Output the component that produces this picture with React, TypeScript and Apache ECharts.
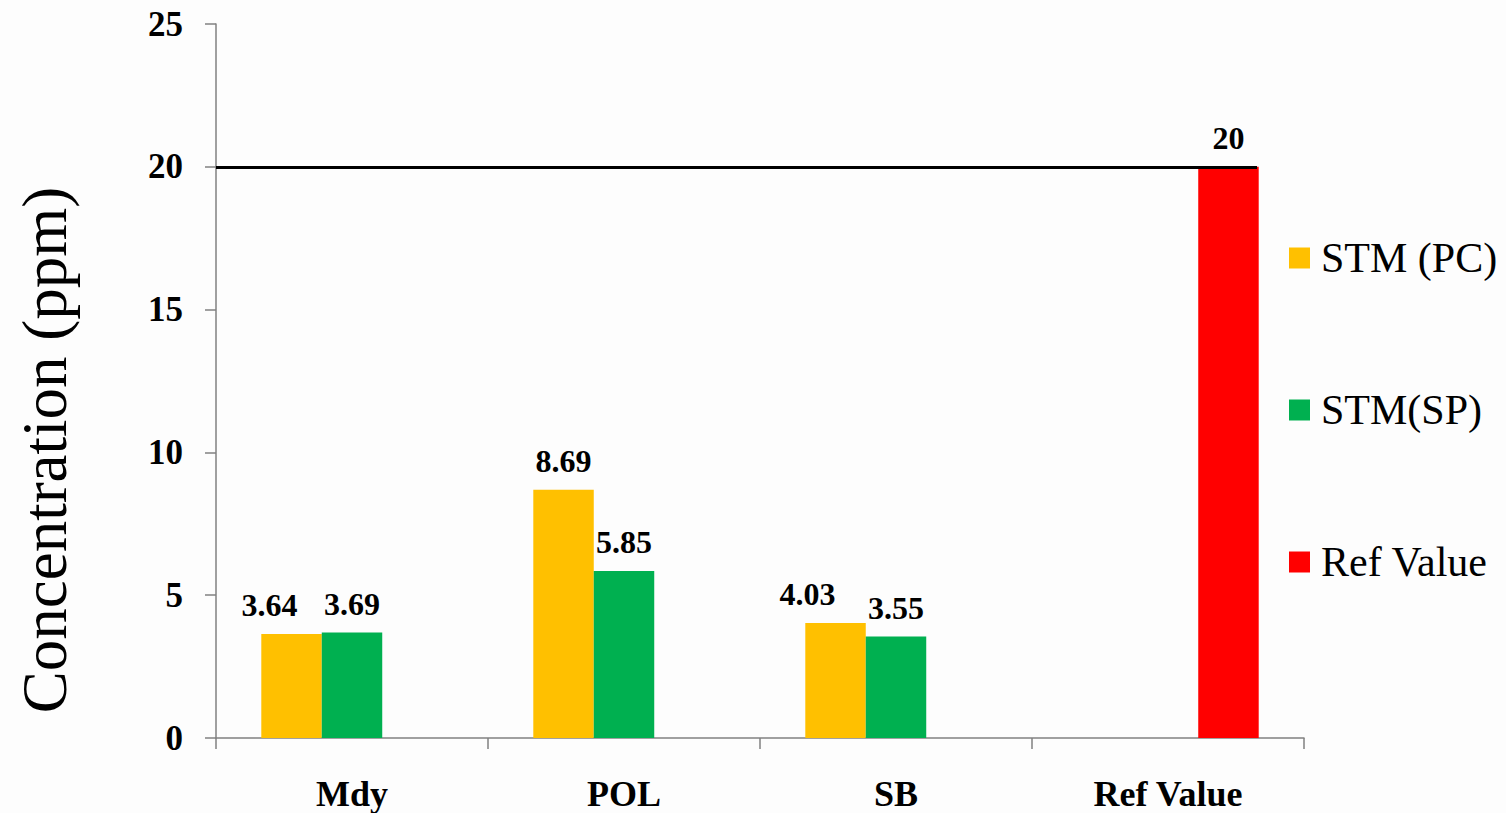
import React, { useEffect, useRef } from "react";
import * as echarts from "echarts";

const categories = ["Mdy", "POL", "SB", "Ref Value"];
const seriesNames = ["STM (PC)", "STM(SP)", "Ref Value"];
const stmPC = [3.64, 8.69, 4.03, null];
const stmSP = [3.69, 5.85, 3.55, null];
const refValue = [null, null, null, 20];
const refLine = 20;
const yTicks = { min: 0, max: 25, interval: 5 };
const colors = ["#FFC000", "#00B050", "#FF0000"];
// label horizontal shifts as drawn in the reference (per data point)
const pcLabelShift = [-22, 0, -28, 0];

const FONT = "'Liberation Serif', 'Times New Roman', serif";

export default function App() {
  const ref = useRef<HTMLDivElement>(null);
  useEffect(() => {
    document.body.style.margin = "0";
    const chart = echarts.init(ref.current!, undefined, { renderer: "svg" });
    const labelBase = {
      show: true,
      position: "top",
      distance: 13,
      fontFamily: FONT,
      fontWeight: "bold",
      fontSize: 32,
      color: "#000",
    };
    chart.setOption({
      animation: false,
      backgroundColor: "#fdfdfd",
      textStyle: { fontFamily: FONT },
      grid: { left: 216, right: 202, top: 24, bottom: 75, containLabel: false },
      legend: {
        orient: "vertical",
        left: 1289,
        top: 237,
        padding: 0,
        itemGap: 110,
        itemWidth: 21,
        itemHeight: 21,
        icon: "rect",
        data: seriesNames,
        textStyle: { fontFamily: FONT, fontSize: 42, color: "#000", padding: [0, 0, 0, 6] },
      },
      xAxis: {
        type: "category",
        data: categories,
        boundaryGap: true,
        axisLine: { lineStyle: { color: "#808080", width: 1.5 } },
        axisTick: { show: true, length: 11, lineStyle: { color: "#808080", width: 1.5 } },
        axisLabel: {
          fontFamily: FONT,
          fontWeight: "bold",
          fontSize: 36,
          color: "#000",
          margin: 38,
        },
      },
      yAxis: {
        type: "value",
        min: yTicks.min,
        max: yTicks.max,
        interval: yTicks.interval,
        splitLine: { show: false },
        axisLine: { show: true, lineStyle: { color: "#808080", width: 1.5 } },
        axisTick: { show: true, length: 11, lineStyle: { color: "#808080", width: 1.5 } },
        axisLabel: {
          fontFamily: FONT,
          fontWeight: "bold",
          fontSize: 35,
          color: "#000",
          margin: 33,
        },
      },
      graphic: [
        {
          type: "text",
          x: 45,
          y: 450,
          rotation: Math.PI / 2,
          style: {
            text: "Concentration (ppm)",
            font: `63px ${FONT}`,
            fill: "#000",
            textAlign: "center",
            textVerticalAlign: "middle",
          },
        },
      ],
      series: [
        {
          name: seriesNames[0],
          type: "bar",
          barGap: "0%",
          barCategoryGap: "33.3%",
          itemStyle: { color: colors[0] },
          label: labelBase,
          data: stmPC.map((v, i) =>
            v == null ? null : { value: v, label: { offset: [pcLabelShift[i], 0] } }
          ),
        },
        {
          name: seriesNames[1],
          type: "bar",
          itemStyle: { color: colors[1] },
          label: labelBase,
          data: stmSP,
        },
        {
          name: seriesNames[2],
          type: "bar",
          itemStyle: { color: colors[2] },
          label: labelBase,
          data: refValue,
          markLine: {
            silent: true,
            symbol: "none",
            label: { show: false },
            lineStyle: { color: "#000", width: 3, type: "solid" },
            data: [[{ x: 216, yAxis: refLine }, { x: 1257, yAxis: refLine }]],
          },
        },
      ],
    });
    return () => chart.dispose();
  }, []);
  return <div ref={ref} style={{ width: 1506, height: 813 }} />;
}
